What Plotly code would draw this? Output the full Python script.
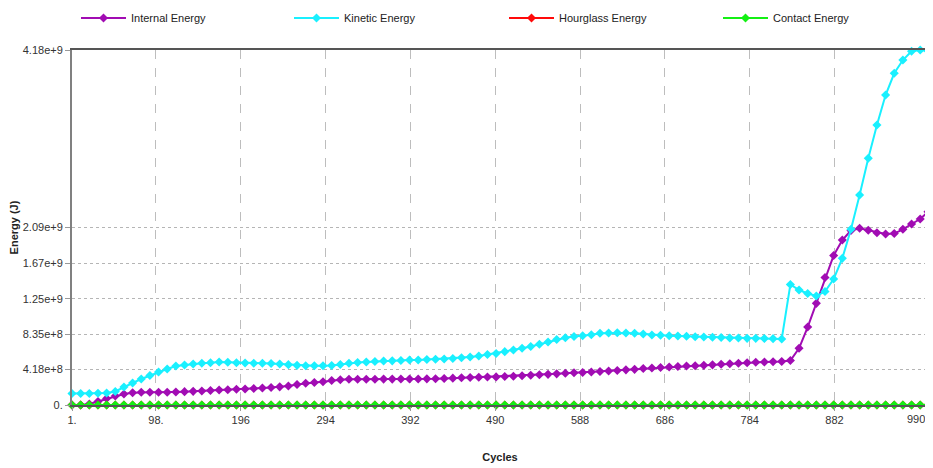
import plotly.graph_objects as go

# Cycle sampling (100 saved states)
cycles = list(range(1, 991, 10)) + [990]

internal_energy = [
    0.0, 0.0, 0.012, 0.041, 0.077, 0.106, 0.130, 0.145, 0.150, 0.150,
    0.150, 0.150, 0.153, 0.157, 0.161, 0.165, 0.171, 0.177, 0.180, 0.185,
    0.188, 0.194, 0.200, 0.206, 0.214, 0.224, 0.241, 0.256, 0.265, 0.274,
    0.288, 0.298, 0.303, 0.303, 0.304, 0.304, 0.305, 0.305, 0.306, 0.306,
    0.307, 0.308, 0.309, 0.312, 0.316, 0.320, 0.324, 0.327, 0.330, 0.331,
    0.336, 0.339, 0.344, 0.350, 0.356, 0.361, 0.367, 0.373, 0.379, 0.383,
    0.389, 0.394, 0.400, 0.406, 0.414, 0.420, 0.429, 0.436, 0.442, 0.447,
    0.453, 0.459, 0.462, 0.467, 0.473, 0.479, 0.485, 0.491, 0.497, 0.503,
    0.506, 0.510, 0.512, 0.524, 0.668, 0.918, 1.197, 1.501, 1.760, 1.943,
    2.055, 2.081, 2.057, 2.029, 2.013, 2.019, 2.069, 2.131, 2.190, 2.276,
]  # x 1e9 J

kinetic_energy = [
    0.135, 0.135, 0.135, 0.138, 0.141, 0.159, 0.212, 0.259, 0.306, 0.347,
    0.389, 0.424, 0.459, 0.471, 0.483, 0.491, 0.498, 0.506, 0.503, 0.498,
    0.495, 0.491, 0.491, 0.489, 0.483, 0.475, 0.467, 0.463, 0.463, 0.463,
    0.465, 0.477, 0.491, 0.500, 0.506, 0.512, 0.518, 0.520, 0.524, 0.530,
    0.530, 0.536, 0.538, 0.542, 0.548, 0.556, 0.565, 0.577, 0.595, 0.606,
    0.628, 0.648, 0.668, 0.689, 0.715, 0.742, 0.771, 0.791, 0.807, 0.816,
    0.827, 0.844, 0.848, 0.851, 0.848, 0.844, 0.836, 0.824, 0.821, 0.816,
    0.812, 0.809, 0.804, 0.801, 0.797, 0.794, 0.789, 0.789, 0.785, 0.785,
    0.783, 0.781, 0.777, 1.419, 1.354, 1.313, 1.283, 1.336, 1.484, 1.727,
    2.070, 2.473, 2.905, 3.297, 3.650, 3.906, 4.062, 4.165, 4.180, 4.170,
]  # x 1e9 J

hourglass_energy = [0.0] * 100
contact_energy = [0.0] * 100

series_names = ["Internal Energy", "Kinetic Energy", "Hourglass Energy", "Contact Energy"]
series_colors = ["#a10cb3", "#19f0ff", "#ff0a0a", "#14f014"]

y_tickvals = [0, 0.418e9, 0.835e9, 1.25e9, 1.67e9, 2.09e9, 4.18e9]
y_ticktext = ["0.", "4.18e+8", "8.35e+8", "1.25e+9", "1.67e+9", "2.09e+9", "4.18e+9"]
x_tickvals = [1, 98, 196, 294, 392, 490, 588, 686, 784, 882, 990]
x_ticktext = ["1.", "98.", "196", "294", "392", "490", "588", "686", "784", "882", ""]
x_last_label = "990"

font_family = "Liberation Sans Narrow, Liberation Sans, Arial, sans-serif"

W, H = 925, 460  # page has an 8px body margin
legend_ids = ["legend", "legend2", "legend3", "legend4"]
legend_x = [68, 281, 496, 710]

fig = go.Figure()
for name, vals, col, lid in zip(series_names,
                                [internal_energy, kinetic_energy, hourglass_energy, contact_energy],
                                series_colors, legend_ids):
    fig.add_trace(go.Scatter(
        x=cycles, y=[v * 1e9 for v in vals], name=name, mode="lines+markers",
        line=dict(color=col, width=2),
        marker=dict(symbol="diamond", size=7, color=col),
        cliponaxis=False, legend=lid,
    ))

legend_common = dict(orientation="h", xref="container", yref="container",
                     xanchor="left", yanchor="middle", bgcolor="rgba(0,0,0,0)",
                     font=dict(size=11, color="#222222"), itemwidth=45)
layout_legends = {}
for lid, lx in zip(legend_ids, legend_x):
    layout_legends[lid] = dict(legend_common, x=lx / W, y=1 - 10 / H)

fig.add_annotation(x=x_tickvals[-1], y=0, xref="x", yref="paper",
                   text=x_last_label, showarrow=False, xanchor="right", yanchor="top",
                   xshift=-1, yshift=-6, font=dict(size=11, color="#333333"))

fig.update_layout(
    width=W, height=H,
    margin=dict(l=64, r=5, t=42, b=63, autoexpand=False),
    paper_bgcolor="white", plot_bgcolor="white",
    font=dict(family=font_family, size=11, color="#333333"),
    showlegend=True,
    **layout_legends,
    xaxis=dict(range=[1, 990], tickvals=x_tickvals, ticktext=x_ticktext,
               showgrid=True, gridcolor="#bdbdbd", griddash="dash", gridwidth=1,
               showline=True, linecolor="#555555", linewidth=2, mirror=True,
               ticks="outside", ticklen=4, tickcolor="#999999",
               zeroline=False,
               title=dict(text="<b>Cycles</b>", font=dict(size=11, color="#222222"), standoff=28)),
    yaxis=dict(range=[0, 4.18e9], tickvals=y_tickvals, ticktext=y_ticktext,
               showgrid=True, gridcolor="#b5b5b5", griddash="dot", gridwidth=1,
               showline=True, linecolor="#808080", linewidth=2, mirror=True,
               ticks="outside", ticklen=5, tickcolor="#999999",
               zeroline=False,
               title=dict(text="<b>Energy (J)</b>", font=dict(size=11, color="#222222"), standoff=4)),
)

fig.write_html("out.html")
